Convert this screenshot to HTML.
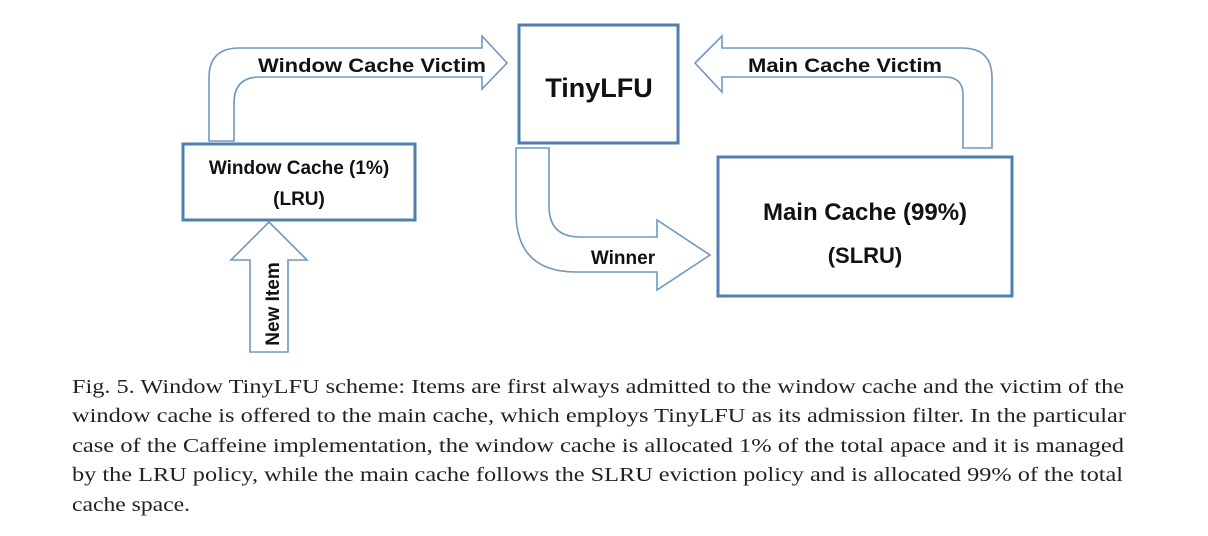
<!DOCTYPE html>
<html><head><meta charset="utf-8"><style>
html,body{margin:0;padding:0;background:#fff;}
svg{display:block;}
</style></head><body>
<svg width="1208" height="536" viewBox="0 0 1208 536" xmlns="http://www.w3.org/2000/svg">
<g fill="#fff" stroke="#6f98c0" stroke-width="1.6" stroke-linejoin="miter">
<!-- Window cache victim arrow -->
<path d="M209,141 L209,78 Q209,48 239,48 L482,48 L482,36 L507,63 L482,89 L482,77 L260,77 Q234,77 234,103 L234,141 Z"/>
<!-- Main cache victim arrow -->
<path d="M992,148 L992,78 Q992,48 962,48 L722,48 L722,36 L695,63 L722,92 L722,77 L945,77 Q963,77 963,95 L963,148 Z"/>
<!-- Winner arrow -->
<path d="M516,148 L516,212 Q516,272 576,272 L657,272 L657,290 L710,255 L657,220 L657,237 L580,237 Q549,237 549,206 L549,148 Z"/>
<!-- New item arrow -->
<path d="M250,352 L250,260 L231,260 L269,222 L307,260 L288,260 L288,352 Z"/>
</g>
<g fill="#fff" stroke="#4f7fae" stroke-width="3">
<rect x="183" y="144" width="232" height="76"/>
<rect x="519" y="25" width="159" height="118"/>
<rect x="718" y="157" width="294" height="139"/>
</g>
<g font-family="Liberation Sans, sans-serif" font-weight="bold" fill="#111" text-anchor="middle">
<text x="599" y="97" font-size="27">TinyLFU</text>
<text x="299" y="174" font-size="19">Window Cache (1%)</text>
<text x="299" y="205" font-size="19">(LRU)</text>
<text x="865" y="220" font-size="24">Main Cache (99%)</text>
<text x="865" y="263" font-size="22">(SLRU)</text>
<text x="372" y="72" font-size="19" textLength="228" lengthAdjust="spacingAndGlyphs">Window Cache Victim</text>
<text x="845" y="72" font-size="19" textLength="194" lengthAdjust="spacingAndGlyphs">Main Cache Victim</text>
<text x="623" y="264" font-size="19">Winner</text>
<text transform="translate(279,304) rotate(-90)" font-size="19">New Item</text>
</g>
<g font-family="Liberation Serif, serif" font-size="20" fill="#222">
<text x="72" y="393" textLength="1052" lengthAdjust="spacingAndGlyphs">Fig. 5.  Window TinyLFU scheme: Items are first always admitted to the window cache and the victim of the</text>
<text x="72" y="422" textLength="1054" lengthAdjust="spacingAndGlyphs">window cache is offered to the main cache, which employs TinyLFU as its admission filter. In the particular</text>
<text x="72" y="452" textLength="1052" lengthAdjust="spacingAndGlyphs">case of the Caffeine implementation, the window cache is allocated 1% of the total apace and it is managed</text>
<text x="72" y="481" textLength="1051" lengthAdjust="spacingAndGlyphs">by the LRU policy, while the main cache follows the SLRU eviction policy and is allocated 99% of the total</text>
<text x="72" y="511" textLength="118" lengthAdjust="spacingAndGlyphs">cache space.</text>
</g>
</svg>
</body></html>
